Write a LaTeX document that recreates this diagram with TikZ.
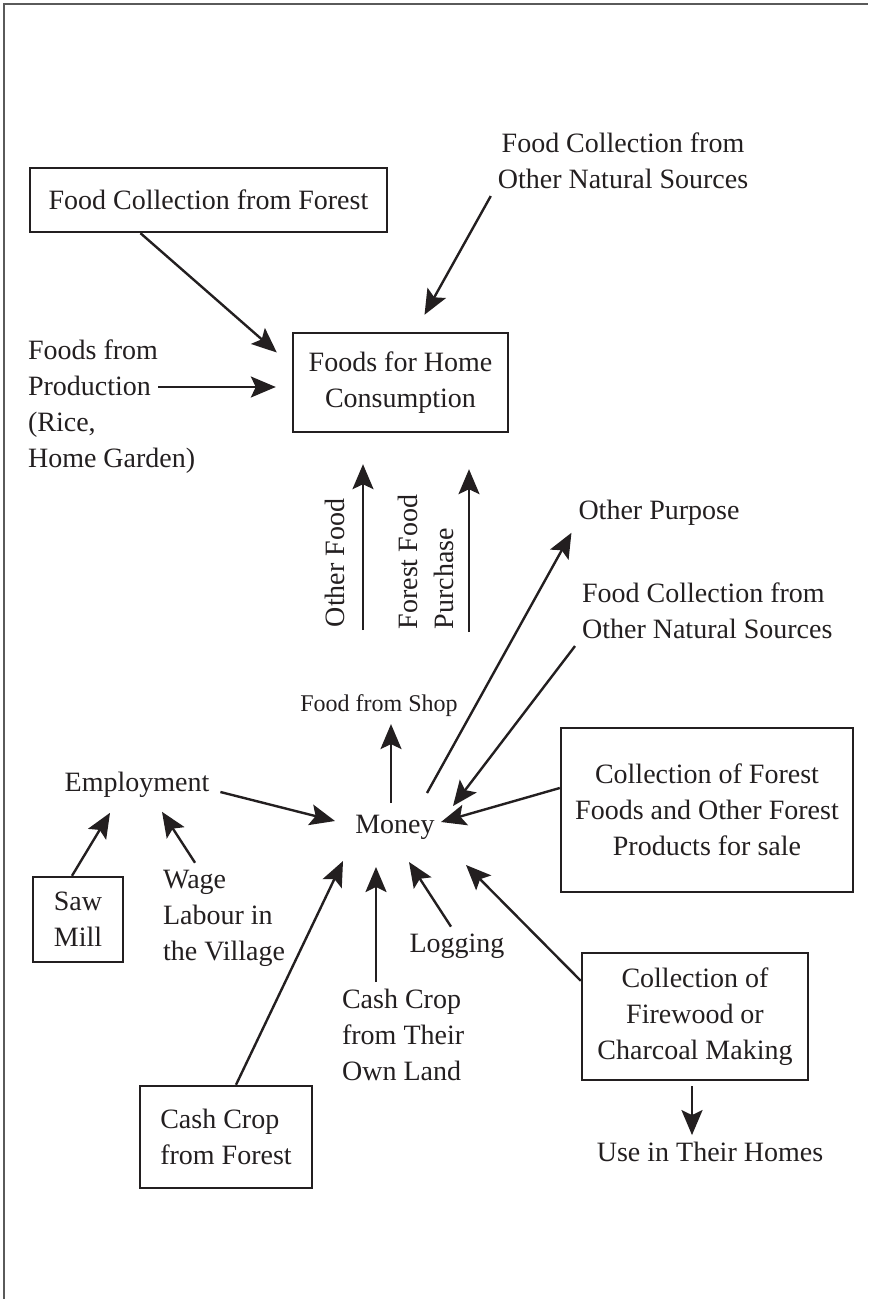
\documentclass[tikz,border=0pt]{standalone}
\usepackage{xcolor}
\usepackage{fontspec}
\setmainfont{Liberation Serif}
\usepackage{tikz}
\usetikzlibrary{positioning, shapes, calc, arrows.meta}
\definecolor{ink}{RGB}{35,31,32}
\definecolor{framegray}{RGB}{90,90,90}

\begin{document}
\begin{tikzpicture}[x=0.5pt, y=-0.5pt, every node/.style={transform shape, font=\fontsize{14}{18}\selectfont, text=ink}]
	\tikzstyle{foodbox}=[draw=ink, line width=1.2pt, align=center]
	
	\tikzstyle{foodtext}=[align=left]
	
	\tikzstyle{arr}=[-{Stealth[length=12.5pt, width=10.5pt, inset=2.5pt]}, line width=1.2pt, draw=ink]
	
	\useasboundingbox (0,0) rectangle (868,1299);
	\draw[framegray, line width=1pt] (4,1299) -- (4,4) -- (868,4);
	
	%% boxes
	\node [foodbox, minimum width=178.5pt, minimum height=32pt] (B1) at (208.5,200) {Food Collection from Forest};
	\node [foodbox, minimum width=107.5pt, minimum height=49.5pt] (B2) at (400.5,382.5) {Foods for Home\\Consumption};
	\node [foodbox, minimum width=45pt, minimum height=42.5pt] (B3) at (78,919.5) {Saw\\Mill};
	\node [foodbox, minimum width=146pt, minimum height=82pt] (B4) at (707,810) {Collection of Forest\\Foods and Other Forest\\Products for sale};
	\node [foodbox, minimum width=113pt, minimum height=63.5pt] (B5) at (695,1016.5) {Collection of\\Firewood or\\Charcoal Making};
	\node [foodbox, minimum width=86pt, minimum height=51pt, align=left] (B6) at (226,1137) {Cash Crop\\from Forest};
	
	%% labels
	\node [align=center] (L1) at (623,161) {Food Collection from\\Other Natural Sources};
	\node [foodtext, anchor=west] (L2) at (21,407) {Foods from\\Production\\(Rice,\\Home Garden)};
	\node [rotate=90] (L3) at (335,563) {Other Food};
	\node [foodtext, rotate=90] (L4) at (425.5,562) {Forest Food\\Purchase};
	\node (L5) at (659,513) {Other Purpose};
	\node [foodtext, anchor=west] (L6) at (575,611) {Food Collection from\\Other Natural Sources};
	\node [font=\fontsize{12}{14}\selectfont] (L7) at (379,706) {Food from Shop};
	\node (M) at (395,827) {Money};
	\node (L8) at (137,785) {Employment};
	\node [foodtext, anchor=west] (L9) at (156,918) {Wage\\Labour in\\the Village};
	\node (L10) at (457,946) {Logging};
	\node [foodtext, anchor=west] (L11) at (335,1035) {Cash Crop\\from Their\\Own Land};
	\node (L12) at (710,1152) {Use in Their Homes};
	
	\coordinate (P1) at (158,387);
	\coordinate (P2) at (363,630);
	\coordinate (P3) at (469,632);
	\coordinate (M1) at ($(M)+(-19,40)$);
	
	%% into home consumption
	\draw [arr] ([xshift=-34pt]B1.south) -- ($(B2.west)+(-15,-30)$);
	\draw [arr] (L1.south west) -- ($(B2.north)+(24,-17)$);
	\draw [arr] (P1) -- ($(B2.west |- P1)+(-16,0)$);
	\draw [arr] (P2) -- ($(B2.south -| P2)+(0,31)$);
	\draw [arr] (P3) -- ($(B2.south -| P3)+(0,36)$);
	
	%% into and out of money
	\draw [arr] ($(L8.east)+(4,7)$) -- ($(M)+(-60,-6)$);
	\draw [arr] ([xshift=-3pt]B3.north) -- ($(L8.south)+(-27,8)$);
	\draw [arr] ([xshift=-14.5pt]L9.north) -- ($(L8.south)+(25,7)$);
	\draw [arr] ([xshift=5pt]B6.north) -- ($(M)+(-52,34)$);
	\draw [arr] (L11.north -| M1) -- (M1);
	\draw [arr] ([xshift=-3pt]L10.north) -- ($(M)+(14,35)$);
	\draw [arr] ([yshift=-14.5pt]B5.north west) -- ($(M)+(71,38)$);
	\draw [arr] ([yshift=11pt]B4.west) -- ($(M)+(46,-5)$);
	\draw [arr] (L6.south west) -- ($(M)+(58,-21)$);
	\draw [arr] ($(M)+(32,-34)$) -- (L5.south west);
	\draw [arr] ($(M)+(-4,-24)$) -- ([xshift=6pt]L7.south);
	\draw [arr, shorten <=2.5pt] ([xshift=-1.5pt]B5.south) -- ([xshift=-1.5pt]B5.south |- L12.north);
\end{tikzpicture}
\end{document}
